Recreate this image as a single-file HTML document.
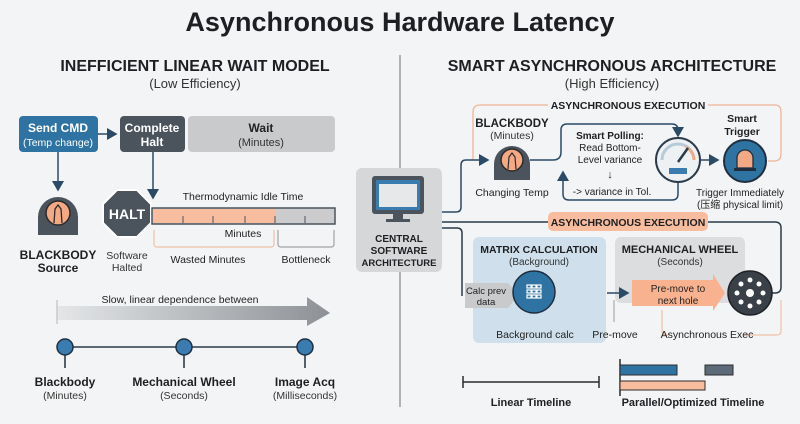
<!DOCTYPE html>
<html><head><meta charset="utf-8"><style>
html,body{margin:0;padding:0;background:#f3f4f5}
svg{display:block;font-family:"Liberation Sans","Noto Sans CJK SC",sans-serif}
.b{font-weight:bold}
</style></head><body>
<svg width="800" height="424" viewBox="0 0 800 424">
<defs>
<marker id="a" markerWidth="8" markerHeight="8" refX="6" refY="4" orient="auto"><path d="M0,0 L7,4 L0,8 z" fill="#2b4a66"/></marker>
<linearGradient id="g" x1="0" x2="1"><stop offset="0" stop-color="#e4e6e8"/><stop offset="1" stop-color="#8d9195"/></linearGradient>
</defs>
<rect width="800" height="424" fill="#f3f4f5"/>
<text x="400" y="31" text-anchor="middle" class="b" font-size="27" fill="#1d1f22">Asynchronous Hardware Latency</text>
<line x1="400" y1="55" x2="400" y2="407" stroke="#9a9da0" stroke-width="1.5"/>

<!-- LEFT -->
<text x="195" y="71" text-anchor="middle" class="b" font-size="16" fill="#1d1f22">INEFFICIENT LINEAR WAIT MODEL</text>
<text x="195" y="88" text-anchor="middle" font-size="13" fill="#333">(Low Efficiency)</text>
<rect x="19" y="116" width="79" height="36" rx="4" fill="#2f73a3"/>
<text x="58" y="132" text-anchor="middle" class="b" font-size="12" fill="#fff">Send CMD</text>
<text x="58" y="146" text-anchor="middle" font-size="10.5" fill="#fff">(Temp change)</text>
<rect x="120" y="116" width="65" height="36" rx="4" fill="#4b545d"/>
<text x="152" y="132" text-anchor="middle" class="b" font-size="12" fill="#fff">Complete</text>
<text x="152" y="146" text-anchor="middle" class="b" font-size="12" fill="#fff">Halt</text>
<rect x="188" y="116" width="147" height="36" rx="4" fill="#c9cacc"/>
<text x="261" y="132" text-anchor="middle" class="b" font-size="12" fill="#222">Wait</text>
<text x="261" y="146" text-anchor="middle" font-size="11" fill="#333">(Minutes)</text>
<line x1="98" y1="134" x2="116" y2="134" stroke="#2b4a66" stroke-width="1.5" marker-end="url(#a)"/>
<line x1="58" y1="152" x2="58" y2="190" stroke="#2b4a66" stroke-width="1.5" marker-end="url(#a)"/>
<line x1="153" y1="152" x2="153" y2="198" stroke="#2b4a66" stroke-width="1.5" marker-end="url(#a)"/>
<g transform="translate(58,215)">
<path d="M-20,20 L-20,2 A20,20 0 1 1 20,2 L20,20 Z" fill="#4b545d"/>
<circle r="12" cy="-2" fill="#f4a985" stroke="#2b2b2b" stroke-width="1.5"/>
<path d="M-4,8 L-3,-6 L0,-10 L3,-6 L4,8" fill="none" stroke="#2b2b2b" stroke-width="1.3"/>
</g>
<text x="58" y="259" text-anchor="middle" class="b" font-size="12" fill="#1d1f22">BLACKBODY</text>
<text x="58" y="272" text-anchor="middle" class="b" font-size="12" fill="#1d1f22">Source</text>
<polygon points="117,190 137,190 151,204 151,223 137,237 117,237 103,223 103,204" fill="#4b545d" stroke="#fff" stroke-width="2"/>
<text x="127" y="219" text-anchor="middle" class="b" font-size="14" fill="#fff">HALT</text>
<text x="127" y="259" text-anchor="middle" font-size="10.5" fill="#333">Software</text>
<text x="127" y="271" text-anchor="middle" font-size="10.5" fill="#333">Halted</text>
<text x="243" y="200" text-anchor="middle" font-size="10.5" fill="#222">Thermodynamic Idle Time</text>
<rect x="152" y="208" width="183" height="16" fill="#ccccce" stroke="#4b545d" stroke-width="1.5"/>
<rect x="153" y="209" width="122" height="14" fill="#f8bd9e"/>
<g stroke="#4b545d" stroke-width="1"><line x1="183" y1="216" x2="183" y2="223"/><line x1="213" y1="216" x2="213" y2="223"/><line x1="245" y1="216" x2="245" y2="223"/><line x1="275" y1="216" x2="275" y2="223"/><line x1="305" y1="216" x2="305" y2="223"/></g>
<text x="243" y="237" text-anchor="middle" font-size="10.5" fill="#222">Minutes</text>
<path d="M154,230 V244 Q154,247 157,247 H271 Q274,247 274,244 V230" fill="none" stroke="#f0c2a8" stroke-width="1.2"/>
<path d="M278,230 V244 Q278,247 281,247 H331 Q334,247 334,244 V230" fill="none" stroke="#a0a3a6" stroke-width="1.2"/>
<text x="208" y="263" text-anchor="middle" font-size="10.5" fill="#222">Wasted Minutes</text>
<text x="306" y="263" text-anchor="middle" font-size="10.5" fill="#222">Bottleneck</text>
<text x="180" y="303" text-anchor="middle" font-size="10.5" fill="#222">Slow, linear dependence between</text>
<polygon points="57,306 307,306 307,297 330,313 307,326 307,320 57,320" fill="url(#g)"/>
<line x1="57" y1="300" x2="57" y2="324" stroke="#c8cacc" stroke-width="1.5"/>
<line x1="65" y1="347" x2="305" y2="347" stroke="#2b3b4a" stroke-width="1.5"/>
<g fill="#3a7bb0" stroke="#1f2f3f" stroke-width="1.5">
<line x1="65" y1="347" x2="65" y2="368"/><line x1="184" y1="347" x2="184" y2="368"/><line x1="305" y1="347" x2="305" y2="368"/>
<circle cx="65" cy="347" r="8"/><circle cx="184" cy="347" r="8"/><circle cx="305" cy="347" r="8"/></g>
<text x="65" y="386" text-anchor="middle" class="b" font-size="12" fill="#1d1f22">Blackbody</text>
<text x="65" y="399" text-anchor="middle" font-size="10.5" fill="#333">(Minutes)</text>
<text x="184" y="386" text-anchor="middle" class="b" font-size="12" fill="#1d1f22">Mechanical Wheel</text>
<text x="184" y="399" text-anchor="middle" font-size="10.5" fill="#333">(Seconds)</text>
<text x="305" y="386" text-anchor="middle" class="b" font-size="12" fill="#1d1f22">Image Acq</text>
<text x="305" y="399" text-anchor="middle" font-size="10.5" fill="#333">(Milliseconds)</text>

<!-- RIGHT -->
<text x="612" y="71" text-anchor="middle" class="b" font-size="16" fill="#1d1f22">SMART ASYNCHRONOUS ARCHITECTURE</text>
<text x="612" y="88" text-anchor="middle" font-size="13" fill="#333">(High Efficiency)</text>
<path d="M548,105 H480 Q473,105 473,112 V160" fill="none" stroke="#f0b597" stroke-width="1.3"/>
<path d="M708,105 H775 Q781,105 781,112 V154 Q781,161 774,161 H768" fill="none" stroke="#f0b597" stroke-width="1.3"/>
<text x="628" y="109" text-anchor="middle" class="b" font-size="10.5" fill="#1d1f22">ASYNCHRONOUS EXECUTION</text>
<rect x="356" y="168" width="86" height="104" rx="6" fill="#d6d7d9"/>
<rect x="372" y="176" width="52" height="38" rx="3" fill="#4b545d"/>
<rect x="376" y="180" width="44" height="30" fill="#3a7bb0"/>
<rect x="379" y="184" width="38" height="23" fill="#e6e8ea"/>
<rect x="393" y="214" width="10" height="5" fill="#4b545d"/><rect x="386" y="219" width="24" height="3" fill="#4b545d"/>
<text x="399" y="242" text-anchor="middle" class="b" font-size="10" fill="#1d1f22">CENTRAL</text>
<text x="399" y="254" text-anchor="middle" class="b" font-size="10" fill="#1d1f22">SOFTWARE</text>
<text x="399" y="266" text-anchor="middle" class="b" font-size="9.5" fill="#1d1f22">ARCHITECTURE</text>
<path d="M442,212 H456 Q461,212 461,207 V165 Q461,160 466,160 H488" fill="none" stroke="#2b4a66" stroke-width="1.5" marker-end="url(#a)"/>
<text x="512" y="127" text-anchor="middle" class="b" font-size="11.5" fill="#1d1f22">BLACKBODY</text>
<text x="512" y="139" text-anchor="middle" font-size="10.5" fill="#333">(Minutes)</text>
<g transform="translate(512,162)">
<path d="M-18,18 L-18,2 A18,18 0 1 1 18,2 L18,18 Z" fill="#4b545d"/>
<circle r="11" cy="-2" fill="#f4a985" stroke="#2b2b2b" stroke-width="1.5"/>
<path d="M-4,7 L-3,-5 L0,-9 L3,-5 L4,7" fill="none" stroke="#2b2b2b" stroke-width="1.2"/></g>
<text x="512" y="196" text-anchor="middle" font-size="10.5" fill="#222">Changing Temp</text>
<path d="M530,160 H553 Q561,160 561,152 V130 Q561,124 567,124 H672 Q678,124 678,130 V136" fill="none" stroke="#2b4a66" stroke-width="1.5" marker-end="url(#a)"/>
<path d="M678,182 V194 Q678,200 672,200 H569 Q563,200 563,194 V172" fill="none" stroke="#2b4a66" stroke-width="1.5" marker-end="url(#a)"/>
<text x="610" y="139" text-anchor="middle" class="b" font-size="10" fill="#1d1f22">Smart Polling:</text>
<text x="610" y="151" text-anchor="middle" font-size="10" fill="#222">Read Bottom-</text>
<text x="610" y="163" text-anchor="middle" font-size="10" fill="#222">Level variance</text>
<text x="610" y="178" text-anchor="middle" font-size="11" fill="#222">↓</text>
<text x="612" y="195" text-anchor="middle" font-size="10" fill="#222">-&gt; variance in Tol.</text>
<circle cx="678" cy="160" r="22" fill="#eef1f3" stroke="#2b3b4a" stroke-width="2"/>
<path d="M662,160 A16,16 0 0 1 694,160" fill="none" stroke="#b7cad8" stroke-width="3"/>
<path d="M686,147 A16,16 0 0 1 694,160" fill="none" stroke="#f2a985" stroke-width="3"/>
<line x1="678" y1="162" x2="688" y2="148" stroke="#2b3b4a" stroke-width="2.5"/>
<rect x="669" y="168" width="18" height="6" fill="#3a7bb0"/>
<line x1="700" y1="160" x2="718" y2="160" stroke="#2b4a66" stroke-width="1.5" marker-end="url(#a)"/>
<text x="742" y="122" text-anchor="middle" class="b" font-size="10.5" fill="#1d1f22">Smart</text>
<text x="742" y="135" text-anchor="middle" class="b" font-size="10.5" fill="#1d1f22">Trigger</text>
<circle cx="745" cy="161" r="21" fill="#2f73a3" stroke="#1f2f3f" stroke-width="2"/>
<path d="M737,168 V158 A8,8 0 0 1 753,158 V168 Z" fill="#f4a985" stroke="#1f2f3f" stroke-width="1.3"/>
<rect x="734" y="168" width="22" height="3" fill="#1f2f3f"/>
<text x="740" y="196" text-anchor="middle" font-size="10" fill="#222">Trigger Immediately</text>
<text x="740" y="208" text-anchor="middle" font-size="10" fill="#222">(压缩 physical limit)</text>
<path d="M442,222 H775 Q781,222 781,228 V287 Q781,293 775,293 H772" fill="none" stroke="#2b3b4a" stroke-width="1.5"/>
<rect x="548" y="212" width="160" height="19" rx="5" fill="#f8bd9e"/>
<text x="628" y="226" text-anchor="middle" class="b" font-size="10.5" fill="#1d1f22">ASYNCHRONOUS EXECUTION</text>
<rect x="473" y="237" width="133" height="106" rx="6" fill="#cfe0ec"/>
<path d="M442,228 H457 Q462,228 462,233 V296" fill="none" stroke="#2b3b4a" stroke-width="1.5"/>
<text x="539" y="253" text-anchor="middle" class="b" font-size="10.5" fill="#1d1f22">MATRIX CALCULATION</text>
<text x="539" y="265" text-anchor="middle" font-size="10" fill="#333">(Background)</text>
<polygon points="465,283 508,283 518,295 508,308 465,308" fill="#c9cacc"/>
<text x="486" y="294" text-anchor="middle" font-size="9.5" fill="#222">Calc prev</text>
<text x="486" y="305" text-anchor="middle" font-size="9.5" fill="#222">data</text>
<circle cx="534" cy="292" r="21" fill="#2f73a3" stroke="#1f2f3f" stroke-width="1.5"/>
<g fill="none" stroke="#fff" stroke-width="1.2"><rect x="527" y="285" width="4" height="3"/><rect x="532" y="285" width="4" height="3"/><rect x="537" y="285" width="4" height="3"/><rect x="527" y="290" width="4" height="3"/><rect x="532" y="290" width="4" height="3"/><rect x="537" y="290" width="4" height="3"/><rect x="527" y="295" width="4" height="3"/><rect x="532" y="295" width="4" height="3"/><rect x="537" y="295" width="4" height="3"/></g>
<text x="535" y="338" text-anchor="middle" font-size="10.5" fill="#222">Background calc</text>
<rect x="615" y="237" width="130" height="66" rx="6" fill="#dcdddf"/>
<text x="680" y="253" text-anchor="middle" class="b" font-size="11" fill="#1d1f22">MECHANICAL WHEEL</text>
<text x="680" y="265" text-anchor="middle" font-size="10" fill="#333">(Seconds)</text>
<line x1="607" y1="293" x2="628" y2="293" stroke="#2b4a66" stroke-width="1.5" marker-end="url(#a)"/>
<line x1="614" y1="300" x2="614" y2="322" stroke="#9a9da0" stroke-width="1"/>
<polygon points="632,280 713,280 713,274 725,293 713,311 713,306 632,306" fill="#f8b28f"/>
<text x="678" y="292" text-anchor="middle" font-size="10" fill="#222">Pre-move to</text>
<text x="678" y="304" text-anchor="middle" font-size="10" fill="#222">next hole</text>
<circle cx="750" cy="293" r="22" fill="#3a4048" stroke="#1f2327" stroke-width="1.5"/>
<g fill="#fff"><circle cx="750" cy="293" r="4"/><circle cx="750" cy="280" r="2.5"/><circle cx="750" cy="306" r="2.5"/><circle cx="737" cy="293" r="2.5"/><circle cx="763" cy="293" r="2.5"/><circle cx="741" cy="284" r="2.5"/><circle cx="759" cy="284" r="2.5"/><circle cx="741" cy="302" r="2.5"/><circle cx="759" cy="302" r="2.5"/></g>
<path d="M662,310 V331 Q662,335 666,335 H670 M744,335 H777 Q781,335 781,331 V300" fill="none" stroke="#f0c2a8" stroke-width="1.2"/>
<text x="615" y="338" text-anchor="middle" font-size="10.5" fill="#222">Pre-move</text>
<text x="707" y="338" text-anchor="middle" font-size="10.5" fill="#222">Asynchronous Exec</text>
<line x1="463" y1="382" x2="599" y2="382" stroke="#2b2b2b" stroke-width="1.5"/>
<line x1="463" y1="376" x2="463" y2="388" stroke="#2b2b2b" stroke-width="1.5"/>
<line x1="599" y1="376" x2="599" y2="388" stroke="#2b2b2b" stroke-width="1.5"/>
<text x="531" y="406" text-anchor="middle" class="b" font-size="11" fill="#1d1f22">Linear Timeline</text>
<line x1="620" y1="359" x2="620" y2="396" stroke="#2b2b2b" stroke-width="1.5"/>
<rect x="620" y="365" width="57" height="10" fill="#2f73a3" stroke="#2b2b2b" stroke-width="1"/>
<rect x="705" y="365" width="28" height="10" fill="#5d6a7a" stroke="#2b2b2b" stroke-width="1"/>
<rect x="620" y="381" width="85" height="9" fill="#f8bd9e" stroke="#2b2b2b" stroke-width="1"/>
<text x="693" y="406" text-anchor="middle" class="b" font-size="11" fill="#1d1f22">Parallel/Optimized Timeline</text>
</svg>
</body></html>
